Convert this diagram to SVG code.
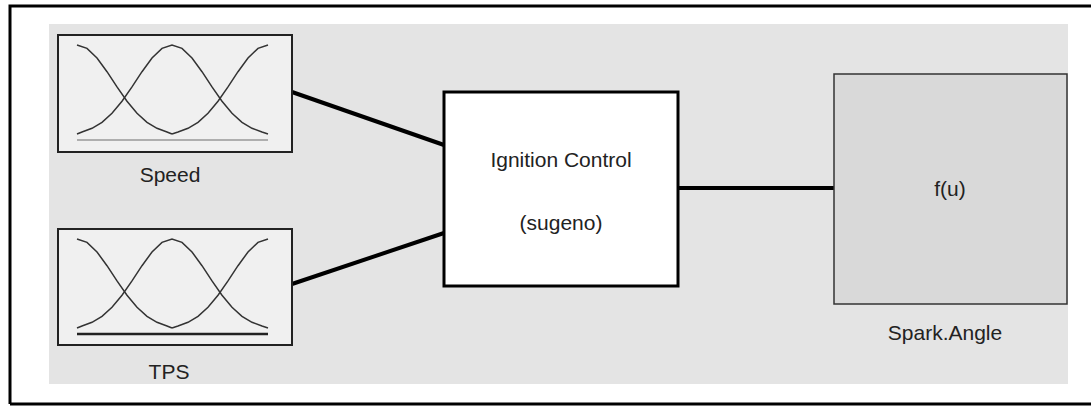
<svg xmlns="http://www.w3.org/2000/svg" xmlns:xlink="http://www.w3.org/1999/xlink" width="1091" height="407" viewBox="0 0 1091 407">
<style>
.lbl{font-family:"Liberation Sans",Arial,sans-serif;font-size:21px;fill:#222;text-anchor:middle}
.mfbox{fill:#f0f0f0;stroke:#222;stroke-width:2}
.mf{fill:none;stroke:#333;stroke-width:1.5}
.conn{stroke:#000;stroke-width:4;fill:none}
</style>
<defs>
<g id="mfcurves">
<polyline class="mf" points="77,45 87,48.4 97,58 107,71.7 117,86.9 127,101.3 137,113.3 147,122.3 157,128.3 167,132 172,134"/>
<polyline class="mf" points="77,134 82,132 92,128.3 102,122.3 112,113.3 122,101.3 132,86.9 142,71.7 152,58 162,48.4 172,45 182,48.4 192,58 202,71.7 212,86.9 222,101.3 232,113.3 242,122.3 252,128.3 262,132 268,134"/>
<polyline class="mf" points="172,134 178,132 188,128.3 198,122.3 208,113.3 218,101.3 228,86.9 238,71.7 248,58 258,48.4 268,45"/>
</g>
</defs>
<rect x="0" y="0" width="1091" height="407" fill="#fff"/>
<path d="M10,404 V6 H1091 M10,404 H1091" fill="none" stroke="#000" stroke-width="3"/>
<rect x="49" y="24" width="1019" height="360" fill="#e4e4e4"/>
<g id="connectors">
<line class="conn" x1="292" y1="92" x2="444" y2="145"/>
<line class="conn" x1="292" y1="284" x2="444" y2="233"/>
<line class="conn" x1="678" y1="188" x2="834" y2="188"/>
</g>
<g id="speed">
<rect class="mfbox" x="58" y="35" width="234" height="117"/>
<line x1="77" y1="140" x2="268" y2="140" stroke="#999" stroke-width="1.5"/>
<use xlink:href="#mfcurves"/>
<text class="lbl" x="170" y="182">Speed</text>
</g>
<g id="tps">
<rect class="mfbox" x="58" y="229" width="234" height="116"/>
<line x1="77" y1="334" x2="268" y2="334" stroke="#222" stroke-width="2.5"/>
<use xlink:href="#mfcurves" transform="translate(0,194)"/>
<text class="lbl" x="169" y="379">TPS</text>
</g>
<g id="ignition">
<rect x="444" y="92" width="234" height="194" fill="#fff" stroke="#000" stroke-width="3"/>
<text class="lbl" x="561" y="167">Ignition Control</text>
<text class="lbl" x="561" y="230">(sugeno)</text>
</g>
<g id="spark">
<rect x="834" y="74" width="233" height="230" fill="#d9d9d9" stroke="#333" stroke-width="1.5"/>
<text class="lbl" x="950" y="196">f(u)</text>
<text class="lbl" x="945" y="340">Spark.Angle</text>
</g>
</svg>
